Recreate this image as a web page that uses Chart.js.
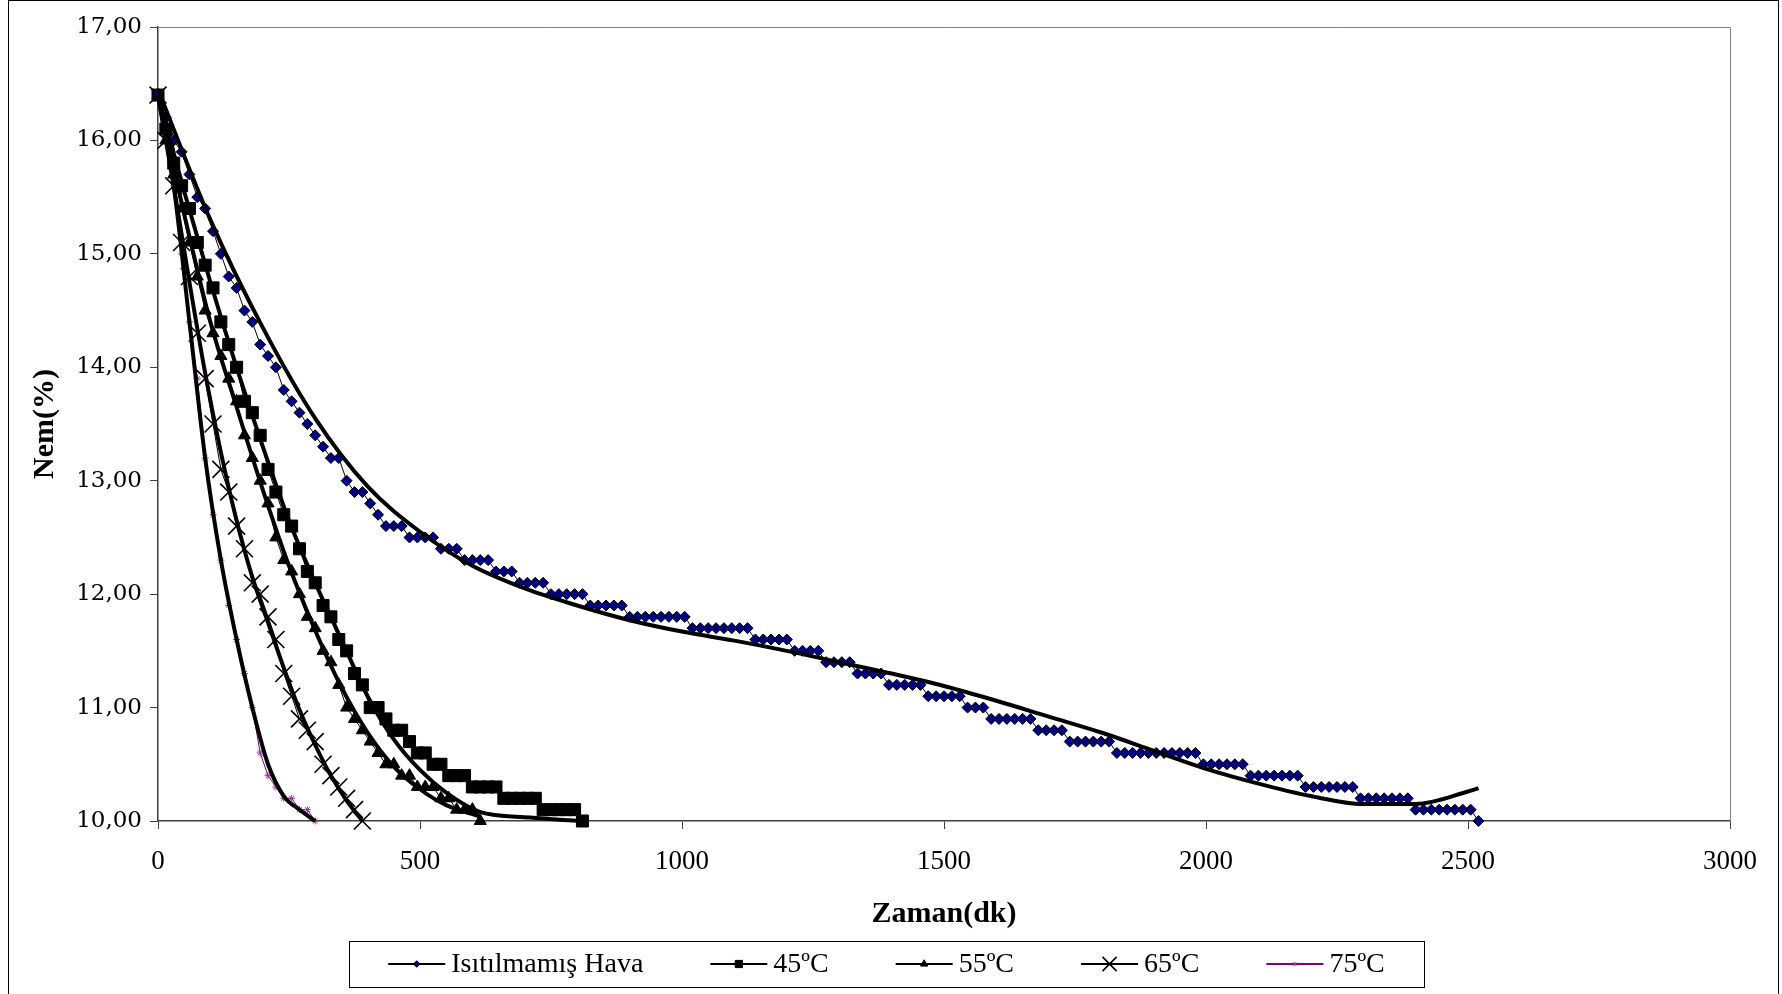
<!DOCTYPE html>
<html>
<head>
<meta charset="utf-8">
<title>Nem - Zaman</title>
<script src="https://cdn.jsdelivr.net/npm/chart.js@4.4.1/dist/chart.umd.min.js"></script>
<style>
  html, body { margin: 0; padding: 0; background: #fff; }
  #wrap { width: 1782px; height: 994px; }
</style>
</head>
<body>
<div id="wrap"><canvas id="nemChart" width="1782" height="994"></canvas></div>
<script>
// Ölçüm zamanları (dk), 15 dakikada bir
const zaman = [
    0, 15, 30, 45, 60, 75, 90, 105, 120, 135,
    150, 165, 180, 195, 210, 225, 240, 255, 270, 285,
    300, 315, 330, 345, 360, 375, 390, 405, 420, 435,
    450, 465, 480, 495, 510, 525, 540, 555, 570, 585,
    600, 615, 630, 645, 660, 675, 690, 705, 720, 735,
    750, 765, 780, 795, 810, 825, 840, 855, 870, 885,
    900, 915, 930, 945, 960, 975, 990, 1005, 1020, 1035,
    1050, 1065, 1080, 1095, 1110, 1125, 1140, 1155, 1170, 1185,
    1200, 1215, 1230, 1245, 1260, 1275, 1290, 1305, 1320, 1335,
    1350, 1365, 1380, 1395, 1410, 1425, 1440, 1455, 1470, 1485,
    1500, 1515, 1530, 1545, 1560, 1575, 1590, 1605, 1620, 1635,
    1650, 1665, 1680, 1695, 1710, 1725, 1740, 1755, 1770, 1785,
    1800, 1815, 1830, 1845, 1860, 1875, 1890, 1905, 1920, 1935,
    1950, 1965, 1980, 1995, 2010, 2025, 2040, 2055, 2070, 2085,
    2100, 2115, 2130, 2145, 2160, 2175, 2190, 2205, 2220, 2235,
    2250, 2265, 2280, 2295, 2310, 2325, 2340, 2355, 2370, 2385,
    2400, 2415, 2430, 2445, 2460, 2475, 2490, 2505, 2520
];

// Nem (%) değerleri
const nemHava = [
    16.4, 16.2, 16.0, 15.9, 15.7, 15.5, 15.4, 15.2, 15.0, 14.8,
    14.7, 14.5, 14.4, 14.2, 14.1, 14.0, 13.8, 13.7, 13.6, 13.5,
    13.4, 13.3, 13.2, 13.2, 13.0, 12.9, 12.9, 12.8, 12.7, 12.6,
    12.6, 12.6, 12.5, 12.5, 12.5, 12.5, 12.4, 12.4, 12.4, 12.3,
    12.3, 12.3, 12.3, 12.2, 12.2, 12.2, 12.1, 12.1, 12.1, 12.1,
    12.0, 12.0, 12.0, 12.0, 12.0, 11.9, 11.9, 11.9, 11.9, 11.9,
    11.8, 11.8, 11.8, 11.8, 11.8, 11.8, 11.8, 11.8, 11.7, 11.7,
    11.7, 11.7, 11.7, 11.7, 11.7, 11.7, 11.6, 11.6, 11.6, 11.6,
    11.6, 11.5, 11.5, 11.5, 11.5, 11.4, 11.4, 11.4, 11.4, 11.3,
    11.3, 11.3, 11.3, 11.2, 11.2, 11.2, 11.2, 11.2, 11.1, 11.1,
    11.1, 11.1, 11.1, 11.0, 11.0, 11.0, 10.9, 10.9, 10.9, 10.9,
    10.9, 10.9, 10.8, 10.8, 10.8, 10.8, 10.7, 10.7, 10.7, 10.7,
    10.7, 10.7, 10.6, 10.6, 10.6, 10.6, 10.6, 10.6, 10.6, 10.6,
    10.6, 10.6, 10.6, 10.5, 10.5, 10.5, 10.5, 10.5, 10.5, 10.4,
    10.4, 10.4, 10.4, 10.4, 10.4, 10.4, 10.3, 10.3, 10.3, 10.3,
    10.3, 10.3, 10.3, 10.2, 10.2, 10.2, 10.2, 10.2, 10.2, 10.2,
    10.1, 10.1, 10.1, 10.1, 10.1, 10.1, 10.1, 10.1, 10.0
];
const nem45 = [
    16.4, 16.1, 15.8, 15.6, 15.4, 15.1, 14.9, 14.7, 14.4, 14.2,
    14.0, 13.7, 13.6, 13.4, 13.1, 12.9, 12.7, 12.6, 12.4, 12.2,
    12.1, 11.9, 11.8, 11.6, 11.5, 11.3, 11.2, 11.0, 11.0, 10.9,
    10.8, 10.8, 10.7, 10.6, 10.6, 10.5, 10.5, 10.4, 10.4, 10.4,
    10.3, 10.3, 10.3, 10.3, 10.2, 10.2, 10.2, 10.2, 10.2, 10.1,
    10.1, 10.1, 10.1, 10.1, 10.0
];
const nem55 = [
    16.4, 16.0, 15.7, 15.4, 15.1, 14.8, 14.5, 14.3, 14.1, 13.9,
    13.7, 13.4, 13.2, 13.0, 12.8, 12.5, 12.3, 12.2, 12.0, 11.8,
    11.7, 11.5, 11.4, 11.2, 11.0, 10.9, 10.8, 10.7, 10.6, 10.5,
    10.5, 10.4, 10.4, 10.3, 10.3, 10.3, 10.2, 10.2, 10.1, 10.1,
    10.1, 10.0
];
const nem65 = [
    16.4, 16.0, 15.6, 15.1, 14.8, 14.3, 13.9, 13.5, 13.1, 12.9,
    12.6, 12.4, 12.1, 12.0, 11.8, 11.6, 11.3, 11.1, 10.9, 10.8,
    10.7, 10.5, 10.4, 10.3, 10.2, 10.1, 10.0
];
const nem75 = [
    16.4, 16.2, 15.6, 15.0, 14.4, 13.9, 13.2, 12.7, 12.3, 11.9,
    11.6, 11.3, 11.0, 10.6, 10.4, 10.3, 10.2, 10.2, 10.1, 10.1,
    10.0
];

// Eğilim eğrileri (grafikten okunan noktalar)
const trendHavaX = [0, 100, 200, 300, 400, 500, 600, 700, 800, 900, 1000, 1100, 1200, 1300,
    1400, 1500, 1600, 1700, 1800, 1900, 2000, 2100, 2200, 2300, 2400, 2500, 2520];
const trendHavaY = [16.45, 15.3, 14.35, 13.55, 12.95, 12.55, 12.25, 12.05, 11.9, 11.77, 11.67, 11.59, 11.5, 11.4,
    11.3, 11.19, 11.06, 10.92, 10.78, 10.62, 10.46, 10.33, 10.22, 10.15, 10.15, 10.26, 10.29];
const trend45X = [0, 50, 100, 150, 200, 250, 300, 350, 400, 450, 500, 550, 614, 710, 805];
const trend45Y = [16.4, 15.55, 14.75, 14.0, 13.3, 12.65, 12.1, 11.6, 11.1, 10.72, 10.45, 10.25, 10.08, 10.03, 10.0];
const trend55X = [0, 50, 100, 150, 200, 250, 300, 350, 400, 450, 500, 550, 615];
const trend55Y = [16.4, 15.35, 14.4, 13.65, 12.92, 12.25, 11.68, 11.18, 10.78, 10.48, 10.28, 10.14, 10.04];
const trend65X = [0, 30, 60, 90, 120, 150, 180, 210, 240, 270, 300, 330, 360, 390];
const trend65Y = [16.4, 15.6, 14.75, 13.95, 13.25, 12.65, 12.15, 11.75, 11.35, 10.98, 10.67, 10.4, 10.18, 10.0];
const trend75X = [0, 30, 60, 90, 120, 150, 180, 210, 240, 270, 300];
const trend75Y = [16.4, 15.6, 14.4, 13.2, 12.3, 11.6, 11.0, 10.5, 10.22, 10.1, 10.0];

const seriesNames = ['Isıtılmamış Hava', '45ºC', '55ºC', '65ºC', '75ºC'];
const xTicks = [0, 500, 1000, 1500, 2000, 2500, 3000];
const yTicks = [10, 11, 12, 13, 14, 15, 16, 17];

function toPoints(xs, ys) {
    return ys.map((v, i) => ({ x: xs[i], y: v }));
}

function dataSeries(label, values, style) {
    return Object.assign({
        label: label,
        data: toPoints(zaman, values),
        borderColor: '#000000',
        borderWidth: 1,
        pointBorderColor: '#000000',
        pointBackgroundColor: '#000000',
        pointBorderWidth: 1,
        tension: 0,
        clip: false,
        order: 1,
        isData: true
    }, style);
}

function trendSeries(xs, ys) {
    return {
        label: 'trend',
        data: toPoints(xs, ys),
        borderColor: '#000000',
        borderWidth: 4,
        pointRadius: 0,
        cubicInterpolationMode: 'monotone',
        clip: false,
        order: 0,
        isData: false
    };
}

const datasets = [
    dataSeries(seriesNames[0], nemHava, { pointStyle: 'rectRot', pointRadius: 5.5, pointBackgroundColor: '#000080' }),
    dataSeries(seriesNames[1], nem45, { pointStyle: 'rect', pointRadius: 8.5 }),
    dataSeries(seriesNames[2], nem55, { pointStyle: 'triangle', pointRadius: 7 }),
    dataSeries(seriesNames[3], nem65, { pointStyle: 'crossRot', pointRadius: 12, pointBorderWidth: 1.6 }),
    dataSeries(seriesNames[4], nem75, { pointStyle: 'star', pointRadius: 3.5, borderColor: '#800080',
        pointBorderColor: '#993399', pointBackgroundColor: '#993399' }),
    trendSeries(trendHavaX, trendHavaY),
    trendSeries(trend45X, trend45Y),
    trendSeries(trend55X, trend55Y),
    trendSeries(trend65X, trend65Y),
    trendSeries(trend75X, trend75Y)
];

// Çerçeveler ve lejant
const framePlugin = {
    id: 'frame',
    afterDraw(chart) {
        const ctx = chart.ctx;
        const a = chart.chartArea;
        ctx.save();
        // dış çerçeve
        ctx.strokeStyle = '#000000';
        ctx.lineWidth = 1;
        ctx.strokeRect(8.5, 0.5, 1770, 1010);
        // çizim alanı üst ve sağ kenar
        ctx.strokeStyle = '#808080';
        ctx.beginPath();
        ctx.moveTo(a.left, a.top + 0.5);
        ctx.lineTo(a.right + 0.5, a.top + 0.5);
        ctx.lineTo(a.right + 0.5, a.bottom);
        ctx.stroke();

        // lejant kutusu
        const box = { left: 349, top: 941, right: 1424, bottom: 987 };
        ctx.strokeStyle = '#000000';
        ctx.strokeRect(box.left + 0.5, box.top + 0.5, box.right - box.left, box.bottom - box.top);

        ctx.font = '28px "Liberation Serif"';
        ctx.textBaseline = 'middle';
        ctx.textAlign = 'left';
        const sampleW = 57, textGap = 6, itemGap = 67;
        const items = chart.data.datasets.filter(d => d.isData);
        const widths = items.map(d => sampleW + textGap + ctx.measureText(d.label).width);
        const total = widths.reduce((s, w) => s + w, 0) + itemGap * (items.length - 1);
        let x = (box.left + box.right) / 2 - total / 2;
        const y = (box.top + box.bottom) / 2;
        items.forEach((d, i) => {
            ctx.strokeStyle = d.borderColor;
            ctx.lineWidth = 2;
            ctx.beginPath();
            ctx.moveTo(x, y);
            ctx.lineTo(x + sampleW, y);
            ctx.stroke();
            ctx.fillStyle = d.pointBackgroundColor;
            ctx.strokeStyle = d.pointBorderColor;
            ctx.lineWidth = d.pointBorderWidth;
            Chart.helpers.drawPoint(ctx, {
                pointStyle: d.pointStyle,
                radius: d.pointStyle === 'crossRot' ? 10 : d.pointRadius * 0.6,
                rotation: 0,
                borderWidth: d.pointBorderWidth
            }, x + sampleW / 2, y);
            ctx.fillStyle = '#000000';
            ctx.fillText(d.label, x + sampleW + textGap, y + 1);
            x += widths[i] + itemGap;
        });
        ctx.restore();
    }
};

new Chart(document.getElementById('nemChart'), {
    type: 'line',
    data: { datasets: datasets },
    options: {
        responsive: false,
        animation: false,
        layout: { padding: { top: 27, right: 52, left: 0, bottom: 0 } },
        plugins: {
            legend: { display: false },
            tooltip: { enabled: false }
        },
        scales: {
            x: {
                type: 'linear',
                min: 0,
                max: 3000,
                afterFit(scale) { scale.height = 173; },
                afterBuildTicks(scale) { scale.ticks = xTicks.map(v => ({ value: v })); },
                grid: { drawOnChartArea: false, drawTicks: true, tickLength: 8, color: '#404040' },
                border: { color: '#404040', width: 1.5 },
                ticks: {
                    padding: 17,
                    color: '#000000',
                    font: { family: '"Liberation Serif"', size: 27 },
                    maxRotation: 0,
                    callback: v => String(v)
                },
                title: {
                    display: true,
                    text: 'Zaman(dk)',
                    color: '#000000',
                    font: { family: '"Liberation Serif"', size: 30, weight: 'bold' },
                    padding: { top: 0, bottom: 62 }
                }
            },
            y: {
                min: 10,
                max: 17,
                afterFit(scale) { scale.width = 158; },
                afterBuildTicks(scale) { scale.ticks = yTicks.map(v => ({ value: v })); },
                grid: { drawOnChartArea: false, drawTicks: true, tickLength: 8, color: '#404040' },
                border: { color: '#404040', width: 1.5 },
                ticks: {
                    padding: 8,
                    color: '#000000',
                    font: { family: '"DejaVu Serif"', size: 23 },
                    callback: v => v.toFixed(2).replace('.', ',')
                },
                title: {
                    display: true,
                    text: 'Nem(%)',
                    color: '#000000',
                    font: { family: '"Liberation Serif"', size: 30, weight: 'bold' },
                    padding: { top: 27, bottom: 0 }
                }
            }
        }
    },
    plugins: [framePlugin]
});
</script>
</body>
</html>
